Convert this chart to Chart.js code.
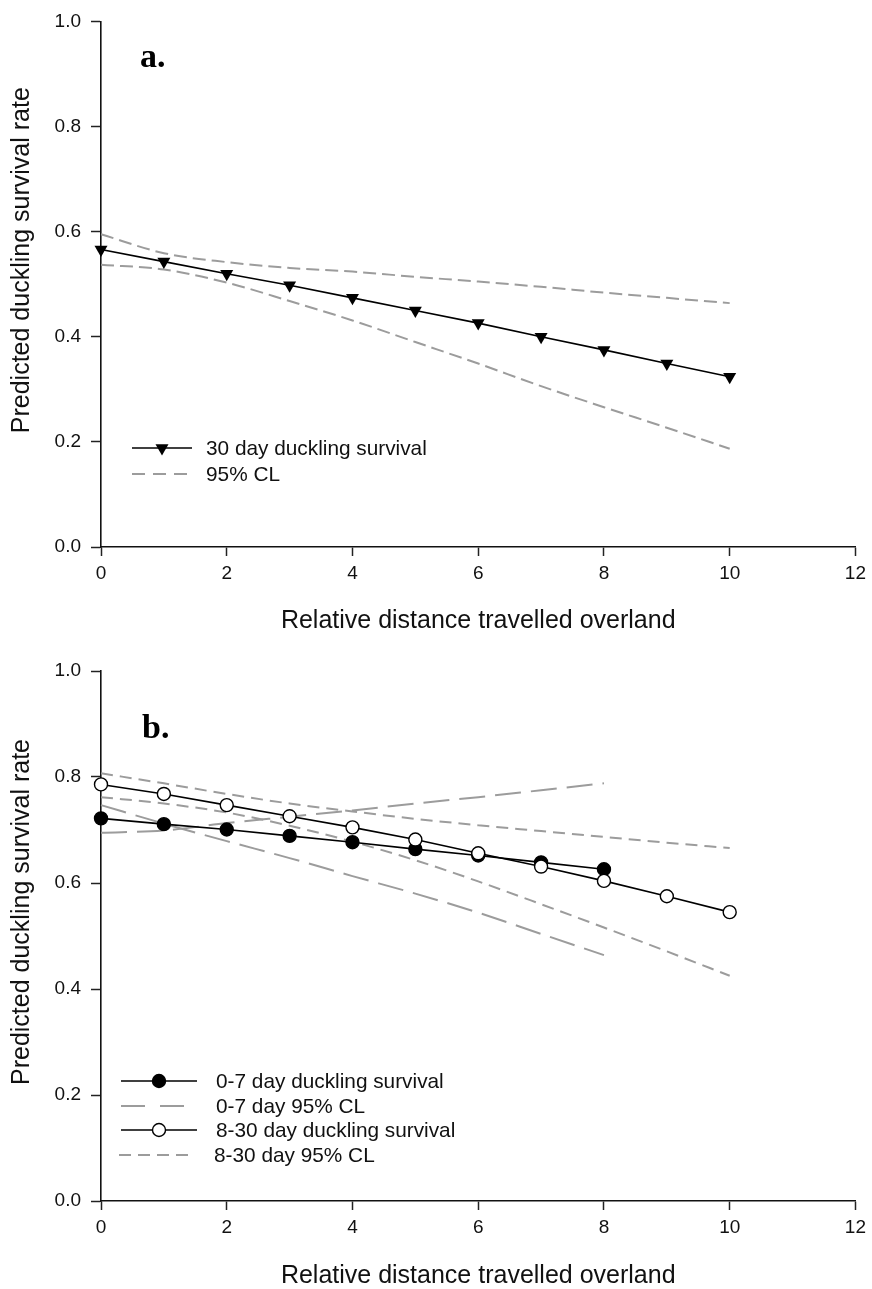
<!DOCTYPE html>
<html>
<head>
<meta charset="utf-8">
<script src="https://cdn.jsdelivr.net/npm/chart.js@4.4.1/dist/chart.umd.min.js"></script>
<style>
  html, body { margin: 0; padding: 0; background: #fff; }
  .panel { position: absolute; left: 0; width: 872px; height: 645px; }
  #panelA { top: 0; }
  #panelB { top: 644px; }
</style>
</head>
<body>
<div class="panel" id="panelA"><canvas id="chartA"></canvas></div>
<div class="panel" id="panelB"><canvas id="chartB"></canvas></div>
<script>
const FONT = "'Liberation Sans', Arial, sans-serif";

// x values (relative distance travelled overland)
const distance = [0, 1, 2, 3, 4, 5, 6, 7, 8, 9, 10];
const xTicks = [0, 2, 4, 6, 8, 10, 12];
const yTicks = [0, 0.2, 0.4, 0.6, 0.8, 1.0];

// panel a: 30 day survival
const surv30 = [0.566, 0.543, 0.520, 0.498, 0.474, 0.450, 0.426, 0.400, 0.375, 0.349, 0.324];
const surv30Upper = [0.595, 0.559, 0.542, 0.531, 0.524, 0.514, 0.505, 0.495, 0.484, 0.474, 0.464];
const surv30Lower = [0.537, 0.528, 0.503, 0.468, 0.431, 0.390, 0.349, 0.306, 0.266, 0.227, 0.187];

// panel b: 0-7 day and 8-30 day survival
const surv0to7 = [0.722, 0.711, 0.701, 0.689, 0.677, 0.664, 0.652, 0.639, 0.626];
const cl0to7A = [0.695, 0.699, 0.713, 0.725, 0.737, 0.750, 0.762, 0.775, 0.788];
const cl0to7B = [0.747, 0.712, 0.679, 0.647, 0.613, 0.580, 0.544, 0.504, 0.464];
const surv8to30 = [0.786, 0.768, 0.747, 0.726, 0.705, 0.682, 0.656, 0.631, 0.604, 0.575, 0.545];
const cl8to30Upper = [0.807, 0.788, 0.768, 0.750, 0.735, 0.721, 0.709, 0.698, 0.687, 0.676, 0.666];
const cl8to30Lower = [0.762, 0.750, 0.733, 0.708, 0.678, 0.643, 0.603, 0.560, 0.516, 0.471, 0.425];

const GREY = '#9c9c9c';
const Y_TITLE = 'Predicted duckling survival rate';

function pts(ys) {
  return ys.map((y, i) => ({ x: distance[i], y: y }));
}

function meanLine(label, ys, style, fill, rotation) {
  return {
    label: label, data: pts(ys), borderColor: '#000', borderWidth: 1.6,
    pointStyle: style, pointRotation: rotation || 0, pointRadius: style === 'triangle' ? 7.5 : 6.5,
    pointBackgroundColor: fill, pointBorderColor: '#000', pointBorderWidth: style === 'triangle' ? 0 : 1.4,
    tension: 0, clip: false
  };
}

function clLine(label, ys, dash) {
  return {
    label: label, data: pts(ys), borderColor: GREY, borderWidth: 2, borderDash: dash,
    pointRadius: 0, cubicInterpolationMode: 'monotone', clip: false
  };
}

// draws the in-plot legend, the panel letter and the y axis title
const inlineLegend = {
  id: 'inlineLegend',
  afterDraw(chart, args, opts) {
    const ctx = chart.ctx;
    const area = chart.chartArea;
    ctx.save();
    opts.items.forEach(item => {
      const ds = chart.data.datasets[item.dataset];
      ctx.save();
      ctx.strokeStyle = ds.borderColor;
      ctx.lineWidth = ds.borderWidth;
      ctx.setLineDash(item.dash || []);
      ctx.beginPath();
      ctx.moveTo(item.x1, item.y);
      ctx.lineTo(item.x2, item.y);
      ctx.stroke();
      ctx.restore();
      if (ds.pointRadius > 0) {
        ctx.fillStyle = ds.pointBackgroundColor;
        ctx.strokeStyle = ds.pointBorderColor;
        ctx.lineWidth = ds.pointBorderWidth;
        Chart.helpers.drawPoint(ctx, {
          pointStyle: ds.pointStyle, rotation: ds.pointRotation, radius: ds.pointRadius,
          borderWidth: ds.pointBorderWidth
        }, (item.x1 + item.x2) / 2, item.y);
      }
      ctx.fillStyle = '#111';
      ctx.font = '20.8px ' + FONT;
      ctx.textBaseline = 'middle';
      ctx.textAlign = 'left';
      ctx.fillText(item.text || ds.label, item.tx, item.y + 1);
    });

    ctx.fillStyle = '#000';
    ctx.font = "bold 34px 'Liberation Serif', 'Times New Roman', serif";
    ctx.textBaseline = 'alphabetic';
    ctx.fillText(opts.letter.text, opts.letter.x, opts.letter.y);

    // y axis title, sits a little above the middle of the plot
    ctx.save();
    ctx.translate(22, (area.top + area.bottom) / 2 - 24);
    ctx.rotate(-Math.PI / 2);
    ctx.fillStyle = '#111';
    ctx.font = '25px ' + FONT;
    ctx.textAlign = 'center';
    ctx.textBaseline = 'middle';
    ctx.fillText(Y_TITLE, 0, 0);
    ctx.restore();
    ctx.restore();
  }
};

function makeScales(xHeight, titlePad) {
  return {
    x: {
      type: 'linear', min: 0, max: 12,
      afterBuildTicks: s => { s.ticks = xTicks.map(v => ({ value: v })); },
      ticks: { color: '#111', font: { family: FONT, size: 19 }, padding: 6, maxRotation: 0 },
      grid: { drawOnChartArea: false, drawTicks: true, tickLength: 9, tickColor: '#222', tickWidth: 1.5 },
      border: { display: true, color: '#111', width: 1.6 },
      title: {
        display: true, text: 'Relative distance travelled overland', color: '#111',
        font: { family: FONT, size: 25, lineHeight: 1 }, padding: { top: 0, bottom: titlePad }
      },
      afterFit: s => { s.height = xHeight; }
    },
    y: {
      type: 'linear', min: 0, max: 1,
      afterBuildTicks: s => { s.ticks = yTicks.map(v => ({ value: v })); },
      ticks: { color: '#111', font: { family: FONT, size: 19 }, padding: 10, callback: v => v.toFixed(1) },
      grid: { drawOnChartArea: false, drawTicks: true, tickLength: 10, tickColor: '#222', tickWidth: 1.5 },
      border: { display: true, color: '#111', width: 1.6 },
      title: { display: false },
      afterFit: s => { s.width = 101; }
    }
  };
}

const baseOptions = {
  responsive: true, maintainAspectRatio: false, animation: false,
  plugins: { legend: { display: false }, tooltip: { enabled: false } }
};

new Chart(document.getElementById('chartA'), {
  type: 'line',
  data: {
    datasets: [
      meanLine('30 day duckling survival', surv30, 'triangle', '#000', 180),
      clLine('95% CL', surv30Upper, [13, 6]),
      clLine('95% CL', surv30Lower, [13, 6])
    ]
  },
  options: Object.assign({}, baseOptions, {
    layout: { padding: { left: 0, right: 14, top: 16, bottom: 0 } },
    scales: makeScales(98, 11.5),
    plugins: Object.assign({}, baseOptions.plugins, {
      inlineLegend: {
        letter: { text: 'a.', x: 140, y: 67 },
        items: [
          { dataset: 0, x1: 132, x2: 192, tx: 206, y: 448 },
          { dataset: 1, x1: 132, x2: 187, tx: 206, y: 474, dash: [13, 8] }
        ]
      }
    })
  }),
  plugins: [inlineLegend]
});

new Chart(document.getElementById('chartB'), {
  type: 'line',
  data: {
    datasets: [
      meanLine('8-30 day duckling survival', surv8to30, 'circle', '#fff'),
      meanLine('0-7 day duckling survival', surv0to7, 'circle', '#000'),
      clLine('0-7 day 95% CL', cl0to7A, [26, 10]),
      clLine('0-7 day 95% CL', cl0to7B, [26, 10]),
      clLine('8-30 day 95% CL', cl8to30Upper, [12, 7]),
      clLine('8-30 day 95% CL', cl8to30Lower, [12, 7])
    ]
  },
  options: Object.assign({}, baseOptions, {
    layout: { padding: { left: 0, right: 14, top: 27, bottom: 0 } },
    scales: makeScales(88, 0),
    plugins: Object.assign({}, baseOptions.plugins, {
      inlineLegend: {
        letter: { text: 'b.', x: 142, y: 94 },
        items: [
          { dataset: 1, x1: 121, x2: 197, tx: 216, y: 437 },
          { dataset: 2, x1: 121, x2: 187, tx: 216, y: 462, dash: [24, 15] },
          { dataset: 0, x1: 121, x2: 197, tx: 216, y: 486 },
          { dataset: 4, x1: 119, x2: 192, tx: 214, y: 511, dash: [12, 7] }
        ]
      }
    })
  }),
  plugins: [inlineLegend]
});
</script>
</body>
</html>
